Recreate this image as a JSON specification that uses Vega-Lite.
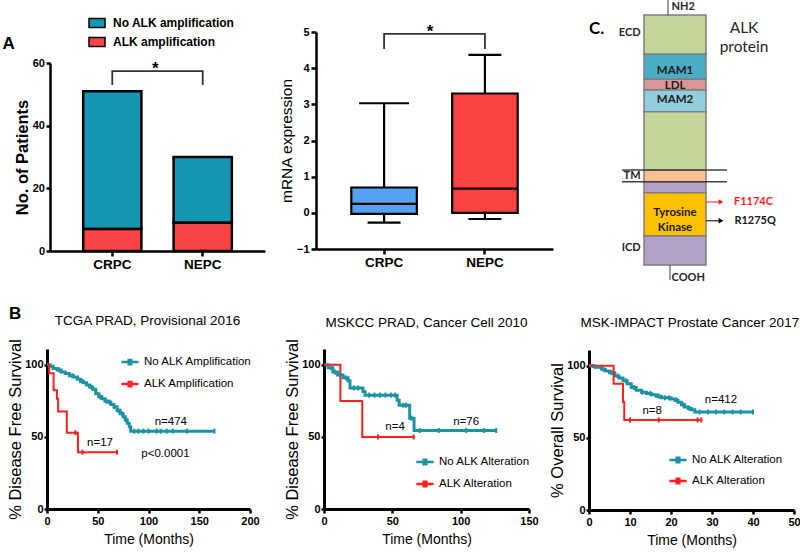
{
  "$schema": "https://vega.github.io/schema/vega-lite/v6.json",
  "width": 800,
  "height": 553,
  "autosize": "none",
  "padding": 0,
  "background": "white",
  "config": {
    "view": {"stroke": null},
    "font": "Liberation Sans",
    "axis": {"grid": false, "domainColor": "black", "tickColor": "black", "labelColor": "black", "titleColor": "black", "labelFont": "Liberation Sans", "titleFont": "Liberation Sans", "labelFontWeight": "bold", "titleFontWeight": "normal", "labelFlush": false, "labelOverlap": false, "domainWidth": 2.5, "tickWidth": 2.5},
    "legend": {"labelFont": "Liberation Sans", "labelColor": "black", "padding": 0}
  },
  "datasets": {
    "bars": [
      {"g": "CRPC", "status": "No ALK amplification", "n": 44},
      {"g": "CRPC", "status": "ALK amplification", "n": 7},
      {"g": "NEPC", "status": "No ALK amplification", "n": 21},
      {"g": "NEPC", "status": "ALK amplification", "n": 9}
    ],
    "box": [
      {"g": "CRPC", "lo": -0.27, "q1": -0.03, "med": 0.25, "q3": 0.7, "hi": 3.03},
      {"g": "NEPC", "lo": -0.17, "q1": 0.0, "med": 0.67, "q3": 3.3, "hi": 4.37}
    ],
    "alk": [
      {"part": "ECD", "y0": 0, "y1": 15.7},
      {"part": "MAM1", "y0": 15.7, "y1": 25.7},
      {"part": "LDL", "y0": 25.7, "y1": 30},
      {"part": "MAM2", "y0": 30, "y1": 38.7},
      {"part": "ECD", "y0": 38.7, "y1": 62},
      {"part": "TM", "y0": 62, "y1": 66.7},
      {"part": "ICD", "y0": 66.7, "y1": 71.1},
      {"part": "Kinase", "y0": 71.1, "y1": 88.4},
      {"part": "ICD", "y0": 88.4, "y1": 100}
    ],
    "km1": [
      {"grp": "No ALK Amplification", "t": 0, "s": 100}, {"grp": "No ALK Amplification", "t": 3, "s": 99}, {"grp": "No ALK Amplification", "t": 6, "s": 97.5}, {"grp": "No ALK Amplification", "t": 10, "s": 96.5}, {"grp": "No ALK Amplification", "t": 14, "s": 95}, {"grp": "No ALK Amplification", "t": 18, "s": 94}, {"grp": "No ALK Amplification", "t": 22, "s": 92.5}, {"grp": "No ALK Amplification", "t": 26, "s": 91.5}, {"grp": "No ALK Amplification", "t": 30, "s": 90}, {"grp": "No ALK Amplification", "t": 33, "s": 88.5}, {"grp": "No ALK Amplification", "t": 36, "s": 87.5}, {"grp": "No ALK Amplification", "t": 39, "s": 86}, {"grp": "No ALK Amplification", "t": 42, "s": 84.5}, {"grp": "No ALK Amplification", "t": 45, "s": 83}, {"grp": "No ALK Amplification", "t": 48, "s": 80}, {"grp": "No ALK Amplification", "t": 51, "s": 78}, {"grp": "No ALK Amplification", "t": 54, "s": 76.5}, {"grp": "No ALK Amplification", "t": 57, "s": 75}, {"grp": "No ALK Amplification", "t": 60, "s": 74}, {"grp": "No ALK Amplification", "t": 63, "s": 72.5}, {"grp": "No ALK Amplification", "t": 66, "s": 71}, {"grp": "No ALK Amplification", "t": 69, "s": 68.5}, {"grp": "No ALK Amplification", "t": 72, "s": 66}, {"grp": "No ALK Amplification", "t": 75, "s": 64}, {"grp": "No ALK Amplification", "t": 77, "s": 62}, {"grp": "No ALK Amplification", "t": 79, "s": 59.5}, {"grp": "No ALK Amplification", "t": 81, "s": 57}, {"grp": "No ALK Amplification", "t": 82.5, "s": 54}, {"grp": "No ALK Amplification", "t": 165, "s": 54},
      {"grp": "ALK Amplification", "t": 0, "s": 100}, {"grp": "ALK Amplification", "t": 2.2, "s": 94.1}, {"grp": "ALK Amplification", "t": 6.5, "s": 82.4}, {"grp": "ALK Amplification", "t": 9.8, "s": 76.5}, {"grp": "ALK Amplification", "t": 11, "s": 67.6}, {"grp": "ALK Amplification", "t": 19.5, "s": 52.9}, {"grp": "ALK Amplification", "t": 30.5, "s": 39.4}, {"grp": "ALK Amplification", "t": 69, "s": 39.4}
    ],
    "km1c": [
      {"grp": "No ALK Amplification", "t": 12, "s": 96.5}, {"grp": "No ALK Amplification", "t": 25, "s": 92.5}, {"grp": "No ALK Amplification", "t": 35, "s": 88.5}, {"grp": "No ALK Amplification", "t": 44, "s": 84.5}, {"grp": "No ALK Amplification", "t": 52, "s": 78}, {"grp": "No ALK Amplification", "t": 58, "s": 75}, {"grp": "No ALK Amplification", "t": 62, "s": 74}, {"grp": "No ALK Amplification", "t": 66, "s": 71}, {"grp": "No ALK Amplification", "t": 70, "s": 68.5}, {"grp": "No ALK Amplification", "t": 74, "s": 66}, {"grp": "No ALK Amplification", "t": 78, "s": 62}, {"grp": "No ALK Amplification", "t": 86, "s": 54}, {"grp": "No ALK Amplification", "t": 90, "s": 54}, {"grp": "No ALK Amplification", "t": 95, "s": 54}, {"grp": "No ALK Amplification", "t": 100, "s": 54}, {"grp": "No ALK Amplification", "t": 108, "s": 54}, {"grp": "No ALK Amplification", "t": 112, "s": 54}, {"grp": "No ALK Amplification", "t": 118, "s": 54}, {"grp": "No ALK Amplification", "t": 124, "s": 54}, {"grp": "No ALK Amplification", "t": 138, "s": 54}, {"grp": "No ALK Amplification", "t": 165, "s": 54},
      {"grp": "ALK Amplification", "t": 28, "s": 52.9}, {"grp": "ALK Amplification", "t": 35, "s": 39.4}, {"grp": "ALK Amplification", "t": 69, "s": 39.4}
    ],
    "km2": [
      {"grp": "No ALK  Alteration", "t": 0, "s": 100}, {"grp": "No ALK  Alteration", "t": 3, "s": 98}, {"grp": "No ALK  Alteration", "t": 6.5, "s": 95}, {"grp": "No ALK  Alteration", "t": 10, "s": 93}, {"grp": "No ALK  Alteration", "t": 14, "s": 91}, {"grp": "No ALK  Alteration", "t": 17.6, "s": 89}, {"grp": "No ALK  Alteration", "t": 19, "s": 84}, {"grp": "No ALK  Alteration", "t": 28.5, "s": 81.5}, {"grp": "No ALK  Alteration", "t": 30, "s": 79}, {"grp": "No ALK  Alteration", "t": 53.5, "s": 75.5}, {"grp": "No ALK  Alteration", "t": 55, "s": 72}, {"grp": "No ALK  Alteration", "t": 62.7, "s": 63}, {"grp": "No ALK  Alteration", "t": 65.9, "s": 54.5}, {"grp": "No ALK  Alteration", "t": 126, "s": 54.5},
      {"grp": "ALK Alteration", "t": 0, "s": 100}, {"grp": "ALK Alteration", "t": 12, "s": 75}, {"grp": "ALK Alteration", "t": 28, "s": 50}, {"grp": "ALK Alteration", "t": 65.6, "s": 50}
    ],
    "km2c": [
      {"grp": "No ALK  Alteration", "t": 5, "s": 98}, {"grp": "No ALK  Alteration", "t": 8, "s": 95}, {"grp": "No ALK  Alteration", "t": 12, "s": 93}, {"grp": "No ALK  Alteration", "t": 16, "s": 91}, {"grp": "No ALK  Alteration", "t": 22, "s": 84}, {"grp": "No ALK  Alteration", "t": 25, "s": 84}, {"grp": "No ALK  Alteration", "t": 33, "s": 79}, {"grp": "No ALK  Alteration", "t": 37, "s": 79}, {"grp": "No ALK  Alteration", "t": 41, "s": 79}, {"grp": "No ALK  Alteration", "t": 45, "s": 79}, {"grp": "No ALK  Alteration", "t": 49, "s": 79}, {"grp": "No ALK  Alteration", "t": 52, "s": 79}, {"grp": "No ALK  Alteration", "t": 58, "s": 72}, {"grp": "No ALK  Alteration", "t": 60, "s": 72}, {"grp": "No ALK  Alteration", "t": 64, "s": 63}, {"grp": "No ALK  Alteration", "t": 70, "s": 54.5}, {"grp": "No ALK  Alteration", "t": 84, "s": 54.5}, {"grp": "No ALK  Alteration", "t": 104, "s": 54.5}, {"grp": "No ALK  Alteration", "t": 117, "s": 54.5}, {"grp": "No ALK  Alteration", "t": 126, "s": 54.5},
      {"grp": "ALK Alteration", "t": 39.5, "s": 50}, {"grp": "ALK Alteration", "t": 65.6, "s": 50}
    ],
    "km3": [
      {"grp": "No ALK  Alteration", "t": 0, "s": 100}, {"grp": "No ALK  Alteration", "t": 1, "s": 99.5}, {"grp": "No ALK  Alteration", "t": 2, "s": 99}, {"grp": "No ALK  Alteration", "t": 3, "s": 97.7}, {"grp": "No ALK  Alteration", "t": 4, "s": 96.5}, {"grp": "No ALK  Alteration", "t": 5, "s": 95.3}, {"grp": "No ALK  Alteration", "t": 6.3, "s": 93}, {"grp": "No ALK  Alteration", "t": 7.3, "s": 91.5}, {"grp": "No ALK  Alteration", "t": 8.3, "s": 89.7}, {"grp": "No ALK  Alteration", "t": 9.3, "s": 87.5}, {"grp": "No ALK  Alteration", "t": 10.3, "s": 85}, {"grp": "No ALK  Alteration", "t": 11.5, "s": 83}, {"grp": "No ALK  Alteration", "t": 12.8, "s": 81.7}, {"grp": "No ALK  Alteration", "t": 14, "s": 80.8}, {"grp": "No ALK  Alteration", "t": 15.2, "s": 80}, {"grp": "No ALK  Alteration", "t": 16.4, "s": 79}, {"grp": "No ALK  Alteration", "t": 17.6, "s": 77.8}, {"grp": "No ALK  Alteration", "t": 20, "s": 77}, {"grp": "No ALK  Alteration", "t": 21, "s": 76}, {"grp": "No ALK  Alteration", "t": 21.7, "s": 74.8}, {"grp": "No ALK  Alteration", "t": 22.5, "s": 73}, {"grp": "No ALK  Alteration", "t": 23.3, "s": 71.4}, {"grp": "No ALK  Alteration", "t": 24.2, "s": 70.5}, {"grp": "No ALK  Alteration", "t": 25, "s": 69.6}, {"grp": "No ALK  Alteration", "t": 25.8, "s": 68}, {"grp": "No ALK  Alteration", "t": 40, "s": 68},
      {"grp": "ALK Alteration", "t": 0, "s": 100}, {"grp": "ALK Alteration", "t": 6, "s": 87.5}, {"grp": "ALK Alteration", "t": 8.3, "s": 75}, {"grp": "ALK Alteration", "t": 8.6, "s": 62.5}, {"grp": "ALK Alteration", "t": 27.4, "s": 62.5}
    ],
    "km3c": [
      {"grp": "No ALK  Alteration", "t": 1.5, "s": 99.5}, {"grp": "No ALK  Alteration", "t": 3.5, "s": 97.7}, {"grp": "No ALK  Alteration", "t": 5.5, "s": 95.3}, {"grp": "No ALK  Alteration", "t": 7, "s": 93}, {"grp": "No ALK  Alteration", "t": 9, "s": 89.7}, {"grp": "No ALK  Alteration", "t": 11, "s": 85}, {"grp": "No ALK  Alteration", "t": 13, "s": 81.7}, {"grp": "No ALK  Alteration", "t": 15, "s": 80.8}, {"grp": "No ALK  Alteration", "t": 17, "s": 79}, {"grp": "No ALK  Alteration", "t": 18.5, "s": 77.8}, {"grp": "No ALK  Alteration", "t": 19.5, "s": 77.8}, {"grp": "No ALK  Alteration", "t": 21.5, "s": 76}, {"grp": "No ALK  Alteration", "t": 23, "s": 73}, {"grp": "No ALK  Alteration", "t": 24.5, "s": 70.5}, {"grp": "No ALK  Alteration", "t": 27, "s": 68}, {"grp": "No ALK  Alteration", "t": 29, "s": 68}, {"grp": "No ALK  Alteration", "t": 31, "s": 68}, {"grp": "No ALK  Alteration", "t": 33, "s": 68}, {"grp": "No ALK  Alteration", "t": 35, "s": 68}, {"grp": "No ALK  Alteration", "t": 37, "s": 68}, {"grp": "No ALK  Alteration", "t": 40, "s": 68},
      {"grp": "ALK Alteration", "t": 10, "s": 62.5}, {"grp": "ALK Alteration", "t": 17, "s": 62.5}, {"grp": "ALK Alteration", "t": 26.5, "s": 62.5}, {"grp": "ALK Alteration", "t": 27.4, "s": 62.5}
    ]
  },
  "resolve": {
    "scale": {"x": "independent", "y": "independent", "color": "independent", "strokeWidth": "independent"},
    "axis": {"x": "independent", "y": "independent"},
    "legend": {"color": "independent"}
  },
  "layer": [
    {
      "layer": [
        {
          "data": {"name": "bars"},
          "mark": {"type": "bar", "stroke": "black", "strokeWidth": 2.5},
          "encoding": {
            "x": {"field": "g", "type": "nominal", "scale": {"type": "band", "domain": ["CRPC", "NEPC"], "range": [50, 265], "paddingInner": 0.356, "paddingOuter": 0.367}, "axis": {"orient": "bottom", "offset": -302, "title": null, "labelAngle": 0, "labelFontSize": 13.5, "tickSize": 5, "labelPadding": 1.5}},
            "y": {"field": "n", "type": "quantitative", "stack": "zero", "scale": {"domain": [0, 60], "range": [251, 63], "nice": false, "zero": false}, "axis": {"orient": "left", "offset": -50, "values": [0, 20, 40, 60], "format": "d", "title": "No. of Patients", "titleFontSize": 16.5, "titleFontWeight": "bold", "labelFontSize": 11, "tickSize": 4, "labelPadding": 1.5, "titlePadding": 1.5}},
            "color": {"field": "status", "type": "nominal", "scale": {"domain": ["No ALK amplification", "ALK amplification"], "range": ["#1597b4", "#f84444"]}, "legend": {"orient": "none", "legendX": 88, "legendY": 14, "title": null, "symbolType": "M-1,-0.55H1V0.55H-1Z", "symbolSize": 256, "symbolStrokeColor": "black", "symbolStrokeWidth": 1.5, "labelFontSize": 12, "labelFontWeight": "bold", "labelOffset": 7, "rowPadding": 2}},
            "order": {"field": "status", "sort": "ascending"}
          }
        },
        {
          "data": {"values": [{"g": "CRPC", "v": 53, "k": 1}, {"g": "CRPC", "v": 57.4, "k": 2}, {"g": "NEPC", "v": 57.4, "k": 3}, {"g": "NEPC", "v": 53, "k": 4}]},
          "mark": {"type": "line", "color": "#333333", "strokeWidth": 1.8},
          "encoding": {
            "x": {"field": "g", "type": "nominal"},
            "y": {"field": "v", "type": "quantitative"},
            "order": {"field": "k"}
          }
        },
        {
          "data": {"values": [{"g": "CRPC", "v": 56.6, "txt": "*"}]},
          "mark": {"type": "text", "fontSize": 17, "fontWeight": "bold", "baseline": "alphabetic", "align": "center", "color": "black"},
          "encoding": {
            "x": {"field": "g", "type": "nominal", "bandPosition": 1.24},
            "y": {"field": "v", "type": "quantitative"},
            "text": {"field": "txt"}
          }
        },
        {
          "data": {"values": [{"g": "CRPC", "v": 66.1, "txt": "A"}]},
          "mark": {"type": "text", "fontSize": 17, "fontWeight": "bold", "baseline": "middle", "align": "center", "color": "black"},
          "encoding": {
            "x": {"field": "g", "type": "nominal", "bandPosition": -1.28},
            "y": {"field": "v", "type": "quantitative"},
            "text": {"field": "txt"}
          }
        }
      ]
    },
    {
      "layer": [
        {
          "data": {"name": "box"},
          "mark": {"type": "rule", "color": "black", "strokeWidth": 2.2},
          "encoding": {
            "x": {"field": "g", "type": "nominal", "scale": {"type": "band", "domain": ["CRPC", "NEPC"], "range": [316, 553], "paddingInner": 0.35, "paddingOuter": 0.35}, "axis": {"orient": "bottom", "offset": -304, "title": null, "labelAngle": 0, "labelFontSize": 13.5, "tickSize": 5, "labelPadding": 1.5}},
            "y": {"field": "lo", "type": "quantitative", "scale": {"domain": [-1, 5], "range": [249, 32], "nice": false, "zero": false}, "axis": {"orient": "left", "offset": -316, "values": [-1, 0, 1, 2, 3, 4, 5], "format": "d", "title": "mRNA expression", "titleFontSize": 15.5, "labelFontSize": 11, "tickSize": 5, "labelPadding": 2, "titlePadding": 2}},
            "y2": {"field": "hi"}
          }
        },
        {
          "data": {"name": "box"},
          "mark": {"type": "bar", "stroke": "black", "strokeWidth": 2.2},
          "encoding": {
            "x": {"field": "g", "type": "nominal"},
            "y": {"field": "q1", "type": "quantitative"},
            "y2": {"field": "q3"},
            "color": {"field": "g", "type": "nominal", "scale": {"domain": ["CRPC", "NEPC"], "range": ["#55a2f5", "#fc4141"]}, "legend": null}
          }
        },
        {
          "data": {"name": "box"},
          "mark": {"type": "tick", "orient": "horizontal", "size": 66, "thickness": 2.2, "color": "black", "opacity": 1},
          "encoding": {
            "x": {"field": "g", "type": "nominal"},
            "y": {"field": "med", "type": "quantitative"}
          }
        },
        {
          "data": {"name": "box"},
          "mark": {"type": "tick", "orient": "horizontal", "size": 33, "thickness": 2.2, "color": "black", "opacity": 1},
          "encoding": {
            "x": {"field": "g", "type": "nominal"},
            "y": {"field": "lo", "type": "quantitative"}
          }
        },
        {
          "data": {"name": "box"},
          "mark": {"type": "tick", "orient": "horizontal", "thickness": 2.2, "color": "black", "opacity": 1},
          "encoding": {
            "x": {"field": "g", "type": "nominal"},
            "y": {"field": "hi", "type": "quantitative"},
            "size": {"condition": {"test": "datum.g === 'CRPC'", "value": 50}, "value": 33}
          }
        },
        {
          "data": {"values": [{"g": "CRPC", "v": 4.53, "k": 1}, {"g": "CRPC", "v": 4.95, "k": 2}, {"g": "NEPC", "v": 4.95, "k": 3}, {"g": "NEPC", "v": 4.53, "k": 4}]},
          "mark": {"type": "line", "color": "#333333", "strokeWidth": 1.8},
          "encoding": {
            "x": {"field": "g", "type": "nominal"},
            "y": {"field": "v", "type": "quantitative"},
            "order": {"field": "k"}
          }
        },
        {
          "data": {"values": [{"g": "CRPC", "v": 4.875, "txt": "*"}]},
          "mark": {"type": "text", "fontSize": 17, "fontWeight": "bold", "baseline": "alphabetic", "align": "center", "color": "black"},
          "encoding": {
            "x": {"field": "g", "type": "nominal", "bandPosition": 1.2},
            "y": {"field": "v", "type": "quantitative"},
            "text": {"field": "txt"}
          }
        }
      ]
    },
    {
      "layer": [
        {
          "data": {"name": "alk"},
          "mark": {"type": "rect", "stroke": "#7f7f7f", "strokeWidth": 1.5},
          "encoding": {
            "x": {"datum": 2.2, "type": "quantitative", "scale": {"domain": [0, 10], "range": [600, 800], "nice": false, "zero": false}, "axis": null},
            "x2": {"datum": 5.3},
            "y": {"field": "y0", "type": "quantitative", "scale": {"domain": [0, 100], "range": [15, 265], "nice": false, "zero": false}, "axis": null},
            "y2": {"field": "y1"},
            "color": {"field": "part", "type": "nominal", "scale": {"domain": ["ECD", "MAM1", "LDL", "MAM2", "TM", "ICD", "Kinase"], "range": ["#c4d79b", "#4bacc6", "#da9694", "#92cddc", "#fac090", "#b2a1c7", "#ffc000"]}, "legend": null}
          }
        },
        {
          "data": {"values": [{"y": 62}, {"y": 66.7}]},
          "mark": {"type": "rule", "color": "#404040", "strokeWidth": 1.5},
          "encoding": {
            "x": {"datum": 1.1, "type": "quantitative", "axis": null},
            "x2": {"datum": 6.35},
            "y": {"field": "y", "type": "quantitative", "axis": null}
          }
        },
        {
          "data": {"values": [{"ya": -6, "yb": 0, "xa": 3.4}, {"ya": 100, "yb": 106, "xa": 3.5}]},
          "mark": {"type": "rule", "color": "#404040", "strokeWidth": 1},
          "encoding": {
            "x": {"field": "xa", "type": "quantitative", "axis": null},
            "y": {"field": "ya", "type": "quantitative", "axis": null},
            "y2": {"field": "yb"}
          }
        },
        {
          "data": {"values": [{"y": 74.8, "mut": "F1174C"}]},
          "mark": {"type": "rule", "color": "#ff4040", "strokeWidth": 1.2},
          "encoding": {
            "x": {"datum": 5.3, "type": "quantitative", "axis": null},
            "x2": {"datum": 6.0},
            "y": {"field": "y", "type": "quantitative", "axis": null}
          }
        },
        {
          "data": {"values": [{"y": 82.3, "mut": "R1275Q"}]},
          "mark": {"type": "rule", "color": "#222222", "strokeWidth": 1.2},
          "encoding": {
            "x": {"datum": 5.3, "type": "quantitative", "axis": null},
            "x2": {"datum": 6.0},
            "y": {"field": "y", "type": "quantitative", "axis": null}
          }
        },
        {
          "data": {"values": [{"y": 74.8, "mut": "F1174C"}]},
          "mark": {"type": "point", "shape": "triangle-right", "filled": true, "size": 30, "color": "#ff2020", "opacity": 1},
          "encoding": {
            "x": {"datum": 6.05, "type": "quantitative", "axis": null},
            "y": {"field": "y", "type": "quantitative", "axis": null}
          }
        },
        {
          "data": {"values": [{"y": 82.3, "mut": "R1275Q"}]},
          "mark": {"type": "point", "shape": "triangle-right", "filled": true, "size": 30, "color": "black", "opacity": 1},
          "encoding": {
            "x": {"datum": 6.05, "type": "quantitative", "axis": null},
            "y": {"field": "y", "type": "quantitative", "axis": null}
          }
        },
        {
          "data": {"values": [{"txt": "MAM1", "y": 22.4}, {"txt": "LDL", "y": 28.2}, {"txt": "MAM2", "y": 34}, {"txt": "Tyrosine", "y": 79.2}, {"txt": "Kinase", "y": 85.2}]},
          "mark": {"type": "text", "font": "Lato", "fontSize": 11.5, "fontWeight": "bold", "align": "center", "baseline": "middle", "color": "#1a1a1a"},
          "encoding": {
            "x": {"datum": 3.75, "type": "quantitative", "axis": null},
            "y": {"field": "y", "type": "quantitative", "axis": null},
            "text": {"field": "txt"}
          }
        },
        {
          "data": {"values": [{"txt": "ECD", "y": 7.2}, {"txt": "TM", "y": 64.4}, {"txt": "ICD", "y": 93.2}]},
          "mark": {"type": "text", "font": "Lato", "fontSize": 11, "fontWeight": "bold", "align": "right", "baseline": "middle", "color": "#262626"},
          "encoding": {
            "x": {"datum": 2.03, "type": "quantitative", "axis": null},
            "y": {"field": "y", "type": "quantitative", "axis": null},
            "text": {"field": "txt"}
          }
        },
        {
          "data": {"values": [{"txt": "NH2", "y": -3.4}, {"txt": "COOH", "y": 105.2}]},
          "mark": {"type": "text", "font": "Lato", "fontSize": 11, "fontWeight": "bold", "align": "left", "baseline": "middle", "color": "#262626"},
          "encoding": {
            "x": {"datum": 3.58, "type": "quantitative", "axis": null},
            "y": {"field": "y", "type": "quantitative", "axis": null},
            "text": {"field": "txt"}
          }
        },
        {
          "data": {"values": [{"txt": "ALK", "y": 5.2}, {"txt": "protein", "y": 12.8}]},
          "mark": {"type": "text", "font": "Lato", "fontSize": 15.5, "align": "center", "baseline": "middle", "color": "#262626"},
          "encoding": {
            "x": {"datum": 7.2, "type": "quantitative", "axis": null},
            "y": {"field": "y", "type": "quantitative", "axis": null},
            "text": {"field": "txt"}
          }
        },
        {
          "data": {"values": [{"txt": "C.", "y": 5.6}]},
          "mark": {"type": "text", "font": "Lato", "fontSize": 17, "fontWeight": "bold", "align": "left", "baseline": "middle", "color": "black"},
          "encoding": {
            "x": {"datum": -0.55, "type": "quantitative", "axis": null},
            "y": {"field": "y", "type": "quantitative", "axis": null},
            "text": {"field": "txt"}
          }
        },
        {
          "data": {"values": [{"txt": "F1174C", "y": 74.8}]},
          "mark": {"type": "text", "font": "Lato", "fontSize": 11, "fontWeight": "bold", "align": "left", "baseline": "middle", "color": "#ff1a1a"},
          "encoding": {
            "x": {"datum": 6.7, "type": "quantitative", "axis": null},
            "y": {"field": "y", "type": "quantitative", "axis": null},
            "text": {"field": "txt"}
          }
        },
        {
          "data": {"values": [{"txt": "R1275Q", "y": 82.3}]},
          "mark": {"type": "text", "font": "Lato", "fontSize": 11, "fontWeight": "bold", "align": "left", "baseline": "middle", "color": "#1a1a1a"},
          "encoding": {
            "x": {"datum": 6.72, "type": "quantitative", "axis": null},
            "y": {"field": "y", "type": "quantitative", "axis": null},
            "text": {"field": "txt"}
          }
        }
      ]
    },
    {
      "layer": [
        {
          "data": {"name": "km1"},
          "mark": {"type": "line", "interpolate": "step-after"},
          "encoding": {
            "x": {"field": "t", "type": "quantitative", "scale": {"domain": [0, 200], "range": [47, 250], "nice": false, "zero": false}, "axis": {"orient": "bottom", "offset": -44, "values": [0, 50, 100, 150, 200], "format": "d", "title": "Time (Months)", "titleFontSize": 14, "labelFontSize": 11, "tickSize": 4, "labelPadding": 2, "titlePadding": 6, "domainWidth": 3}},
            "y": {"field": "s", "type": "quantitative", "scale": {"domain": [0, 111], "range": [509, 349], "nice": false, "zero": false}, "axis": {"orient": "left", "offset": -47, "values": [0, 50, 100], "format": "d", "title": "% Disease Free Survival", "titleFontSize": 16.5, "labelFontSize": 11, "tickSize": 3, "labelPadding": 1, "titlePadding": 1, "domainWidth": 3}},
            "color": {"field": "grp", "type": "nominal", "scale": {"domain": ["No ALK Amplification", "ALK Amplification"], "range": ["#1b93a4", "#ff2020"]}, "legend": {"orient": "none", "legendX": 120, "legendY": 352, "title": null, "symbolType": "M-1,0H1M-0.15,-0.25H0.15V0.25H-0.15Z", "symbolSize": 289, "symbolStrokeWidth": 2.5, "labelFontSize": 11.5, "labelOffset": 4, "rowPadding": 4, "labelLimit": 300}},
            "strokeWidth": {"condition": {"test": "indexof(datum.grp, 'No ALK') === 0", "value": 3}, "value": 2}
          }
        },
        {
          "data": {"name": "km1c"},
          "mark": {"type": "tick", "orient": "vertical", "size": 5, "thickness": 2, "opacity": 1},
          "encoding": {
            "x": {"field": "t", "type": "quantitative"},
            "y": {"field": "s", "type": "quantitative"},
            "color": {"field": "grp", "type": "nominal", "legend": null}
          }
        },
        {
          "data": {"values": [{"t": 99, "s": 130.5, "txt": "TCGA PRAD, Provisional 2016"}]},
          "mark": {"type": "text", "fontSize": 13.5, "align": "center", "baseline": "middle", "color": "black"},
          "encoding": {"x": {"field": "t", "type": "quantitative"}, "y": {"field": "s", "type": "quantitative"}, "text": {"field": "txt"}}
        },
        {
          "data": {"values": [{"t": 122, "s": 60.6, "txt": "n=474"}, {"t": 52.2, "s": 46, "txt": "n=17"}, {"t": 116.7, "s": 38.2, "txt": "p<0.0001"}]},
          "mark": {"type": "text", "fontSize": 11.5, "align": "center", "baseline": "middle", "color": "black"},
          "encoding": {"x": {"field": "t", "type": "quantitative"}, "y": {"field": "s", "type": "quantitative"}, "text": {"field": "txt"}}
        },
        {
          "data": {"values": [{"t": -31.5, "s": 135.3, "txt": "B"}]},
          "mark": {"type": "text", "fontSize": 17, "fontWeight": "bold", "align": "center", "baseline": "middle", "color": "black"},
          "encoding": {"x": {"field": "t", "type": "quantitative"}, "y": {"field": "s", "type": "quantitative"}, "text": {"field": "txt"}}
        }
      ]
    },
    {
      "layer": [
        {
          "data": {"name": "km2"},
          "mark": {"type": "line", "interpolate": "step-after"},
          "encoding": {
            "x": {"field": "t", "type": "quantitative", "scale": {"domain": [0, 150], "range": [324, 529], "nice": false, "zero": false}, "axis": {"orient": "bottom", "offset": -44, "values": [0, 50, 100, 150], "format": "d", "title": "Time (Months)", "titleFontSize": 14, "labelFontSize": 11, "tickSize": 4, "labelPadding": 2, "titlePadding": 6, "domainWidth": 3}},
            "y": {"field": "s", "type": "quantitative", "scale": {"domain": [0, 111], "range": [509, 349], "nice": false, "zero": false}, "axis": {"orient": "left", "offset": -324, "values": [0, 50, 100], "format": "d", "title": "% Disease Free Survival", "titleFontSize": 16.5, "labelFontSize": 11, "tickSize": 3, "labelPadding": 1, "titlePadding": 1, "domainWidth": 3}},
            "color": {"field": "grp", "type": "nominal", "scale": {"domain": ["No ALK  Alteration", "ALK Alteration"], "range": ["#1b93a4", "#ff2020"]}, "legend": {"orient": "none", "legendX": 415, "legendY": 452, "title": null, "symbolType": "M-1,0H1M-0.15,-0.25H0.15V0.25H-0.15Z", "symbolSize": 300, "symbolStrokeWidth": 2.5, "labelFontSize": 11.5, "labelOffset": 4, "rowPadding": 4, "labelLimit": 300}},
            "strokeWidth": {"condition": {"test": "indexof(datum.grp, 'No ALK') === 0", "value": 3}, "value": 2}
          }
        },
        {
          "data": {"name": "km2c"},
          "mark": {"type": "tick", "orient": "vertical", "size": 5, "thickness": 2, "opacity": 1},
          "encoding": {
            "x": {"field": "t", "type": "quantitative"},
            "y": {"field": "s", "type": "quantitative"},
            "color": {"field": "grp", "type": "nominal", "legend": null}
          }
        },
        {
          "data": {"values": [{"t": 75, "s": 128.9, "txt": "MSKCC PRAD, Cancer Cell 2010"}]},
          "mark": {"type": "text", "fontSize": 13.5, "align": "center", "baseline": "middle", "color": "black"},
          "encoding": {"x": {"field": "t", "type": "quantitative"}, "y": {"field": "s", "type": "quantitative"}, "text": {"field": "txt"}}
        },
        {
          "data": {"values": [{"t": 104, "s": 60.6, "txt": "n=76"}, {"t": 52, "s": 56.7, "txt": "n=4"}]},
          "mark": {"type": "text", "fontSize": 11.5, "align": "center", "baseline": "middle", "color": "black"},
          "encoding": {"x": {"field": "t", "type": "quantitative"}, "y": {"field": "s", "type": "quantitative"}, "text": {"field": "txt"}}
        }
      ]
    },
    {
      "layer": [
        {
          "data": {"name": "km3"},
          "mark": {"type": "line", "interpolate": "step-after"},
          "encoding": {
            "x": {"field": "t", "type": "quantitative", "scale": {"domain": [0, 50], "range": [589, 794], "nice": false, "zero": false}, "axis": {"orient": "bottom", "offset": -43, "values": [0, 10, 20, 30, 40, 50], "format": "d", "title": "Time (Months)", "titleFontSize": 14, "labelFontSize": 11, "tickSize": 4, "labelPadding": 2, "titlePadding": 6, "domainWidth": 3}},
            "y": {"field": "s", "type": "quantitative", "scale": {"domain": [0, 111], "range": [510, 350], "nice": false, "zero": false}, "axis": {"orient": "left", "offset": -589, "values": [0, 50, 100], "format": "d", "title": "% Overall Survival", "titleFontSize": 16.5, "labelFontSize": 11, "tickSize": 3, "labelPadding": 1, "titlePadding": 1, "domainWidth": 3}},
            "color": {"field": "grp", "type": "nominal", "scale": {"domain": ["No ALK  Alteration", "ALK Alteration"], "range": ["#1b93a4", "#ff2020"]}, "legend": {"orient": "none", "legendX": 668, "legendY": 450, "title": null, "symbolType": "M-1,0H1M-0.15,-0.25H0.15V0.25H-0.15Z", "symbolSize": 300, "symbolStrokeWidth": 2.5, "labelFontSize": 11.5, "labelOffset": 4, "rowPadding": 3, "labelLimit": 300}},
            "strokeWidth": {"condition": {"test": "indexof(datum.grp, 'No ALK') === 0", "value": 3}, "value": 2}
          }
        },
        {
          "data": {"name": "km3c"},
          "mark": {"type": "tick", "orient": "vertical", "size": 5, "thickness": 2, "opacity": 1},
          "encoding": {
            "x": {"field": "t", "type": "quantitative"},
            "y": {"field": "s", "type": "quantitative"},
            "color": {"field": "grp", "type": "nominal", "legend": null}
          }
        },
        {
          "data": {"values": [{"t": 24.6, "s": 129.8, "txt": "MSK-IMPACT Prostate Cancer 2017"}]},
          "mark": {"type": "text", "fontSize": 13.5, "align": "center", "baseline": "middle", "color": "black"},
          "encoding": {"x": {"field": "t", "type": "quantitative"}, "y": {"field": "s", "type": "quantitative"}, "text": {"field": "txt"}}
        },
        {
          "data": {"values": [{"t": 32.2, "s": 76.3, "txt": "n=412"}, {"t": 15.4, "s": 68.9, "txt": "n=8"}]},
          "mark": {"type": "text", "fontSize": 11.5, "align": "center", "baseline": "middle", "color": "black"},
          "encoding": {"x": {"field": "t", "type": "quantitative"}, "y": {"field": "s", "type": "quantitative"}, "text": {"field": "txt"}}
        }
      ]
    }
  ]
}
